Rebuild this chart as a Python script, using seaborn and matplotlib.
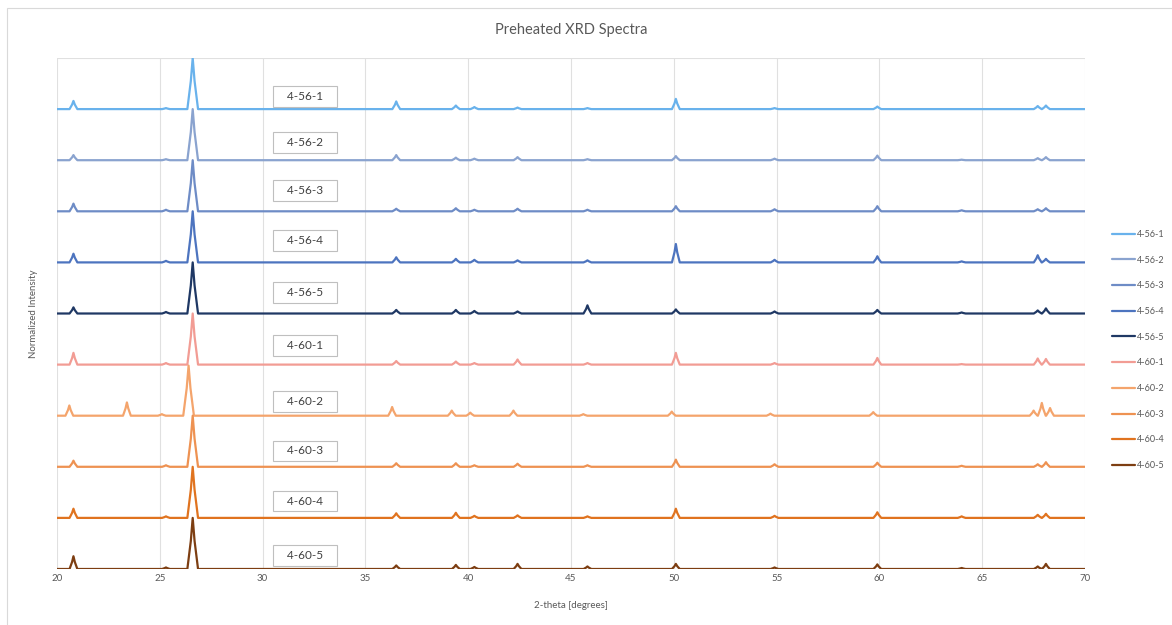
import numpy as np
import pandas as pd
import matplotlib
matplotlib.use("Agg")
import matplotlib.pyplot as plt
import seaborn as sns

# sample names, top trace first
samples = ["4-56-1", "4-56-2", "4-56-3", "4-56-4", "4-56-5",
           "4-60-1", "4-60-2", "4-60-3", "4-60-4", "4-60-5"]
colors = ["#69b2ec", "#8aa3cf", "#6e8cc6", "#4d74bf", "#1f3864",
          "#f29c94", "#f4a46c", "#ee9252", "#e0731f", "#7d3e12"]

# peak positions (2-theta) common to most samples
peaks = [20.8, 25.3, 26.6, 36.5, 39.4, 40.3, 42.4, 45.8, 50.1, 54.9, 59.9, 64.0, 67.7, 68.1]
# normalized peak heights, one row per sample
h_4561 = [0.16, 0.02, 1.00, 0.15, 0.07, 0.04, 0.03, 0.02, 0.20, 0.02, 0.05, 0.00, 0.06, 0.07]
h_4562 = [0.10, 0.02, 1.00, 0.10, 0.05, 0.03, 0.06, 0.02, 0.08, 0.03, 0.09, 0.01, 0.04, 0.06]
h_4563 = [0.15, 0.03, 1.00, 0.05, 0.06, 0.03, 0.05, 0.03, 0.10, 0.04, 0.10, 0.02, 0.04, 0.06]
h_4564 = [0.17, 0.03, 1.00, 0.10, 0.07, 0.05, 0.04, 0.04, 0.36, 0.05, 0.12, 0.02, 0.14, 0.07]
h_4565 = [0.12, 0.03, 1.00, 0.07, 0.07, 0.05, 0.04, 0.16, 0.08, 0.04, 0.07, 0.02, 0.06, 0.10]
h_4601 = [0.23, 0.03, 1.00, 0.07, 0.06, 0.03, 0.10, 0.03, 0.23, 0.03, 0.13, 0.01, 0.12, 0.11]
h_4603 = [0.12, 0.03, 1.00, 0.07, 0.07, 0.03, 0.06, 0.03, 0.14, 0.05, 0.08, 0.02, 0.05, 0.09]
h_4604 = [0.18, 0.03, 1.00, 0.09, 0.10, 0.04, 0.05, 0.03, 0.18, 0.04, 0.11, 0.03, 0.06, 0.08]
h_4605 = [0.25, 0.03, 1.00, 0.07, 0.08, 0.04, 0.10, 0.05, 0.10, 0.03, 0.09, 0.02, 0.05, 0.10]

# 4-60-2 is shifted a bit to lower angle and has an extra peak near 23.4
peaks_4602 = [20.6, 23.4, 25.1, 26.4, 36.3, 39.2, 40.1, 42.2, 45.6, 49.9, 54.7, 59.7, 67.5, 67.9, 68.3]
h_4602 = [0.20, 0.26, 0.03, 0.98, 0.17, 0.10, 0.06, 0.10, 0.03, 0.08, 0.04, 0.07, 0.10, 0.25, 0.15]

heights = [h_4561, h_4562, h_4563, h_4564, h_4565, h_4601, h_4602, h_4603, h_4604, h_4605]
positions = [peaks] * 6 + [peaks_4602] + [peaks] * 3

xticks = [20, 25, 30, 35, 40, 45, 50, 55, 60, 65, 70]

# build long table: baseline, then a small peak shape for each peak, stacked with offsets
rows = []
n = len(samples)
for i, name in enumerate(samples):
    off = n - 1 - i
    pts = [(20.0, 0.0), (70.0, 0.0)]
    for p, h in zip(positions[i], heights[i]):
        w = 0.26 if h > 0.9 else 0.19
        pts += [(p - w, 0.0), (p - 0.35 * w, 0.55 * h), (p, h),
                (p + 0.35 * w, 0.55 * h), (p + w, 0.0)]
    pts.sort()
    for x, y in pts:
        rows.append({"theta": x, "intensity": y + off, "sample": name})
df = pd.DataFrame(rows)

sns.set_style("white")
plt.rcParams["font.family"] = ["Lato", "DejaVu Sans"]

fig = plt.figure(figsize=(11.72, 6.25), dpi=100)
ax = fig.add_axes([57 / 1172, 1 - 569 / 625, (1085 - 57) / 1172, (569 - 58) / 625])

sns.lineplot(data=df, x="theta", y="intensity", hue="sample", hue_order=samples,
             palette=colors, estimator=None, sort=False, linewidth=1.6, ax=ax)
for ln in ax.get_lines():
    ln.set_solid_joinstyle("round")

ax.set_xlim(20, 70)
ax.set_ylim(0, 10)
ax.set_xticks(xticks)
ax.set_yticks([0, 10])
ax.set_yticklabels([])
ax.tick_params(axis="both", length=0, labelsize=7, colors="#595959")
ax.grid(True, color="#e0e0e0", linewidth=0.8)
ax.set_axisbelow(True)
for s in ax.spines.values():
    s.set_visible(False)

ax.set_xlabel("2-theta [degrees]", fontsize=7, color="#595959", labelpad=13)
ax.set_ylabel("Normalized Intensity", fontsize=7, color="#595959", labelpad=10)
fig.text(0.487, 1 - 30 / 625, "Preheated XRD Spectra", ha="center", va="center",
         fontsize=10.5, color="#595959")

# label boxes above each trace
label_lift = [0.25, 0.35, 0.40, 0.43, 0.41, 0.37, 0.28, 0.31, 0.33, 0.27]
for i, name in enumerate(samples):
    off = n - 1 - i
    ax.text(32.05, off + label_lift[i], "   " + name + "   ", ha="center", va="center",
            fontsize=8.5, color="#404040",
            bbox=dict(boxstyle="square,pad=0.42", fc="white", ec="#bfbfbf", lw=0.8))

leg = ax.legend(loc="center left", bbox_to_anchor=(1112 / 1172, 1 - 350 / 625),
                bbox_transform=fig.transFigure, frameon=False, fontsize=6.5,
                handlelength=2.6, handletextpad=0.2, labelspacing=1.85,
                borderpad=0, borderaxespad=0)
for t in leg.get_texts():
    t.set_color("#595959")

# outer chart border
fig.patches.append(plt.Rectangle((7 / 1172, -0.05), 1.1, 1 - 8 / 625 + 0.05,
                                 transform=fig.transFigure, fill=False,
                                 ec="#d9d9d9", lw=0.8))

fig.savefig("out.png", dpi=100, facecolor="white")
